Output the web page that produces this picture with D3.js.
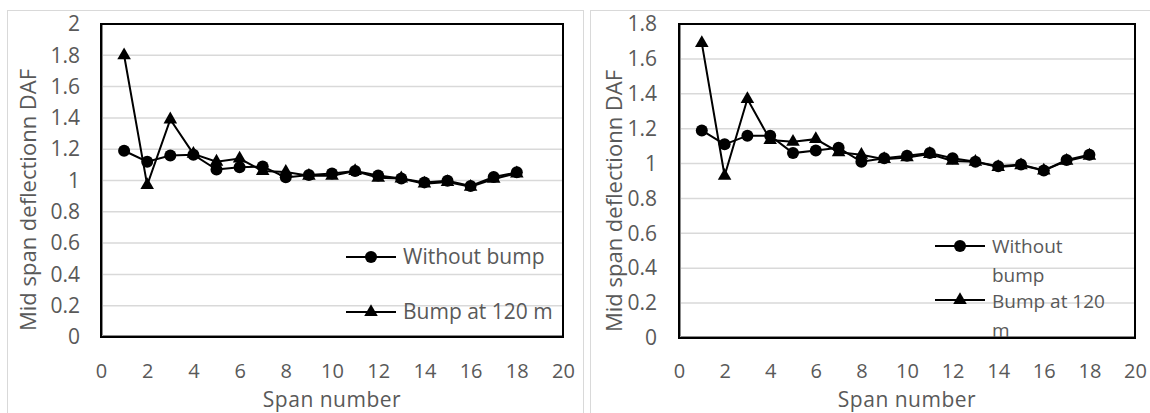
<!DOCTYPE html>
<html>
<head>
<meta charset="utf-8">
<script src="https://cdn.jsdelivr.net/npm/d3@7"></script>
<style>
  body { margin: 0; background: #fff; }
  svg { display: block; font-family: "Open Sans", sans-serif; }
</style>
</head>
<body>
<svg id="chart" width="1150" height="413"></svg>
<script>
// span numbers along the bridge
const spans = [1, 2, 3, 4, 5, 6, 7, 8, 9, 10, 11, 12, 13, 14, 15, 16, 17, 18];

// left chart
const leftWithout = [1.19, 1.12, 1.16, 1.165, 1.07, 1.085, 1.09, 1.02, 1.035, 1.045, 1.06, 1.032, 1.013, 0.988, 0.998, 0.965, 1.022, 1.052];
const leftBump = [1.80, 0.97, 1.39, 1.17, 1.12, 1.14, 1.06, 1.055, 1.03, 1.03, 1.06, 1.017, 1.013, 0.98, 0.99, 0.96, 1.01, 1.045];

// right chart
const rightWithout = [1.19, 1.11, 1.16, 1.16, 1.06, 1.075, 1.09, 1.01, 1.03, 1.045, 1.06, 1.03, 1.01, 0.985, 0.995, 0.96, 1.02, 1.05];
const rightBump = [1.69, 0.93, 1.37, 1.135, 1.125, 1.14, 1.065, 1.05, 1.025, 1.035, 1.055, 1.015, 1.01, 0.98, 0.99, 0.96, 1.015, 1.045];

const xTicks = [0, 2, 4, 6, 8, 10, 12, 14, 16, 18, 20];
const leftYTicks = [0, 0.2, 0.4, 0.6, 0.8, 1, 1.2, 1.4, 1.6, 1.8, 2];
const rightYTicks = [0, 0.2, 0.4, 0.6, 0.8, 1, 1.2, 1.4, 1.6, 1.8];

const svg = d3.select("#chart");
const grey = "#595959";

function drawChart(opt) {
  const g = svg.append("g");

  // outer chart frame
  g.append("rect")
    .attr("x", opt.frame[0]).attr("y", opt.frame[1])
    .attr("width", opt.frame[2]).attr("height", opt.frame[3])
    .attr("fill", "none").attr("stroke", "#d9d9d9").attr("stroke-width", 1);

  const x = d3.scaleLinear().domain([0, 20]).range([opt.left, opt.right]);
  const y = d3.scaleLinear().domain([0, opt.ymax]).range([opt.bottom, opt.top]);

  // gridlines
  g.append("g").selectAll("line").data(opt.yTicks.filter(d => d > 0 && d < opt.ymax)).join("line")
    .attr("x1", opt.left).attr("x2", opt.right)
    .attr("y1", d => y(d)).attr("y2", d => y(d))
    .attr("stroke", "#d9d9d9").attr("stroke-width", 1.5);

  // plot area border
  g.append("rect")
    .attr("x", opt.left).attr("y", opt.top)
    .attr("width", opt.right - opt.left).attr("height", opt.bottom - opt.top)
    .attr("fill", "none").attr("stroke", "#000").attr("stroke-width", 2);
  g.append("line")
    .attr("x1", opt.left + 1.5).attr("x2", opt.left + 1.5)
    .attr("y1", opt.top + 1).attr("y2", opt.bottom - 1.5)
    .attr("stroke", "#8c8c8c").attr("stroke-width", 1);
  g.append("line")
    .attr("x1", opt.left + 1.5).attr("x2", opt.right - 1)
    .attr("y1", opt.bottom - 1.5).attr("y2", opt.bottom - 1.5)
    .attr("stroke", "#8c8c8c").attr("stroke-width", 1);

  // axes
  const xAxis = d3.axisBottom(x).tickValues(xTicks).tickSize(0).tickPadding(opt.xPad);
  const xa = g.append("g").attr("transform", `translate(0,${opt.bottom})`).call(xAxis);
  xa.select(".domain").remove();
  xa.selectAll("text").attr("fill", grey).attr("font-size", 20).attr("font-family", "Open Sans");

  const yAxis = d3.axisLeft(y).tickValues(opt.yTicks).tickSize(0).tickPadding(opt.yPad)
    .tickFormat(d => d3.format("~g")(d));
  const ya = g.append("g").attr("transform", `translate(${opt.left},0)`).call(yAxis);
  ya.select(".domain").remove();
  ya.selectAll("text").attr("fill", grey).attr("font-size", 21).attr("font-family", "Open Sans");

  // axis titles
  g.append("text")
    .attr("x", (opt.left + opt.right) / 2).attr("y", 407)
    .attr("text-anchor", "middle").attr("fill", grey).attr("font-size", 21)
    .attr("letter-spacing", 0.5)
    .text("Span number");
  g.append("text")
    .attr("transform", `translate(${opt.yTitleX},${opt.yTitleY}) rotate(-90)`)
    .attr("text-anchor", "middle").attr("dy", "0.35em").attr("fill", grey).attr("font-size", 22)
    .text("Mid span deflectionn DAF");

  const line = d3.line().x((d, i) => x(spans[i])).y(d => y(d));
  const tri = d3.symbol().type(d3.symbolTriangle).size(80);

  // series: bump first, then without bump on top
  g.append("path").datum(opt.bump).attr("d", line)
    .attr("fill", "none").attr("stroke", "#000").attr("stroke-width", 2);
  g.append("g").selectAll("path").data(opt.bump).join("path")
    .attr("d", tri).attr("transform", (d, i) => `translate(${x(spans[i])},${y(d)})`)
    .attr("fill", "#000");

  g.append("path").datum(opt.without).attr("d", line)
    .attr("fill", "none").attr("stroke", "#000").attr("stroke-width", 2);
  g.append("g").selectAll("circle").data(opt.without).join("circle")
    .attr("cx", (d, i) => x(spans[i])).attr("cy", d => y(d)).attr("r", 6)
    .attr("fill", "#000");

  // legend (each wrapped line is its own text)
  const lg = g.append("g");
  opt.legend.forEach(item => {
    lg.append("line")
      .attr("x1", item.mx - 25).attr("x2", item.mx + 25)
      .attr("y1", item.y).attr("y2", item.y)
      .attr("stroke", "#000").attr("stroke-width", 2);
    if (item.type === "circle") {
      lg.append("circle").attr("cx", item.mx).attr("cy", item.y).attr("r", 6).attr("fill", "#000");
    } else {
      lg.append("path").attr("d", tri).attr("transform", `translate(${item.mx},${item.y})`).attr("fill", "#000");
    }
    item.lines.forEach((s, k) => {
      lg.append("text").attr("x", item.mx + 32).attr("y", item.textY[k])
        .attr("dy", "0.35em").attr("fill", grey).attr("font-size", opt.legendSize)
        .text(s);
    });
  });
}

drawChart({
  frame: [7.5, 10.5, 576, 420],
  left: 101, right: 563, top: 24, bottom: 337,
  ymax: 2, yTicks: leftYTicks, yPad: 21, xPad: 27, yTitleX: 28, yTitleY: 200,
  without: leftWithout, bump: leftBump, legendSize: 21,
  legend: [
    { type: "circle", mx: 371, y: 257, lines: ["Without bump"], textY: [257] },
    { type: "tri", mx: 371, y: 312, lines: ["Bump at 120 m"], textY: [312] }
  ]
});

drawChart({
  frame: [590.5, 10.5, 570, 420],
  left: 679, right: 1135, top: 24, bottom: 338,
  ymax: 1.8, yTicks: rightYTicks, yPad: 22, xPad: 26, yTitleX: 614, yTitleY: 201,
  without: rightWithout, bump: rightBump, legendSize: 19,
  legend: [
    { type: "circle", mx: 960, y: 246, lines: ["Without", "bump"], textY: [246, 275] },
    { type: "tri", mx: 960, y: 300, lines: ["Bump at 120", "m"], textY: [301, 330] }
  ]
});
</script>
</body>
</html>
